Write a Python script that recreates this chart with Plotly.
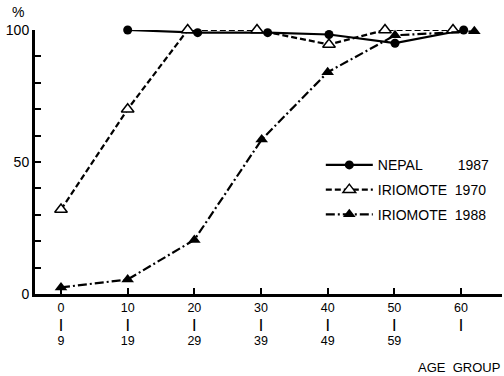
import plotly.graph_objects as go

# Data (x = position along the age-group axis)
nepal_x = [10, 20.5, 31, 40.2, 50.1, 60.4]
nepal_y = [100, 99, 99, 98.3, 95, 100]

iri1970_x = [0, 10, 19, 29.4, 40.2, 48.6, 58.8]
iri1970_y = [32, 70, 100, 100, 94.5, 100, 100]

iri1988_x = [0, 10, 20, 30.1, 40, 50.1, 62]
iri1988_y = [2.5, 5.5, 20.5, 58.5, 84, 98, 99.5]

x_tickvals = [0, 10, 20, 30, 40, 50, 60]
x_ticktext = ["0<br><b>|</b><br>9", "10<br><b>|</b><br>19", "20<br><b>|</b><br>29",
              "30<br><b>|</b><br>39", "40<br><b>|</b><br>49", "50<br><b>|</b><br>59",
              "60<br><b>|</b>"]
y_tickvals = [0, 10, 20, 30, 40, 50, 60, 70, 80, 90, 100]
y_ticktext = ["0", "", "", "", "", "50", "", "", "", "", "100"]

NB = "\u00a0"
names = ["NEPAL" + NB * 9 + "1987", "IRIOMOTE" + NB * 2 + "1970", "IRIOMOTE" + NB * 2 + "1988"]

FONT = "Liberation Sans, Arial, sans-serif"

fig = go.Figure()
fig.add_trace(go.Scatter(
    x=nepal_x, y=nepal_y, name=names[0], mode="lines+markers", legendgroup="a",
    line=dict(color="black", width=2.2, dash="solid"),
    marker=dict(symbol="circle", size=9, color="black"),
    cliponaxis=False))
fig.add_trace(go.Scatter(
    x=iri1970_x, y=iri1970_y, name=names[1], mode="lines+markers", legendgroup="b",
    line=dict(color="black", width=2.2, dash="6px,3px"),
    marker=dict(symbol="triangle-up", size=11, color="white",
                line=dict(color="black", width=1.5)),
    cliponaxis=False))
fig.add_trace(go.Scatter(
    x=iri1988_x, y=iri1988_y, name=names[2], mode="lines+markers", legendgroup="c",
    line=dict(color="black", width=2.2, dash="9px,3px,2px,3px"),
    marker=dict(symbol="triangle-up", size=11, color="black"),
    cliponaxis=False))

fig.update_layout(
    width=504, height=376,
    margin=dict(l=35, r=2, t=30, b=82),
    paper_bgcolor="white", plot_bgcolor="white",
    font=dict(family=FONT, size=14, color="black"),
    showlegend=True,
    legend=dict(x=0.612, y=0.548, xanchor="left", yanchor="top",
                bgcolor="rgba(0,0,0,0)", borderwidth=0,
                itemwidth=47, font=dict(family=FONT, size=14, color="black"),
                tracegroupgap=3.5),
    xaxis=dict(range=[-3.9, 66.15], tickvals=x_tickvals, ticktext=x_ticktext,
               ticks="inside", ticklen=6, tickwidth=2, tickcolor="black",
               showline=True, linecolor="black", linewidth=3,
               showgrid=False, zeroline=False,
               tickfont=dict(family=FONT, size=12.5, color="black")),
    yaxis=dict(range=[0, 100], tickvals=y_tickvals, ticktext=y_ticktext,
               ticks="inside", ticklen=6, tickwidth=2, tickcolor="black",
               showline=True, linecolor="black", linewidth=3,
               showgrid=False, zeroline=False,
               tickfont=dict(family=FONT, size=14, color="black")),
    annotations=[
        dict(text="%", xref="paper", yref="paper", x=-0.036, y=1.07,
             xanchor="center", yanchor="middle", showarrow=False,
             font=dict(family=FONT, size=14, color="black")),
        dict(text="AGE" + NB * 2 + "GROUP", xref="paper", yref="paper", x=1.0, y=-0.28,
             xanchor="right", yanchor="middle", showarrow=False,
             font=dict(family=FONT, size=13, color="black")),
    ],
)

fig.write_html("out.html", config={"displayModeBar": False},
               post_script="document.body.style.margin='0';")
